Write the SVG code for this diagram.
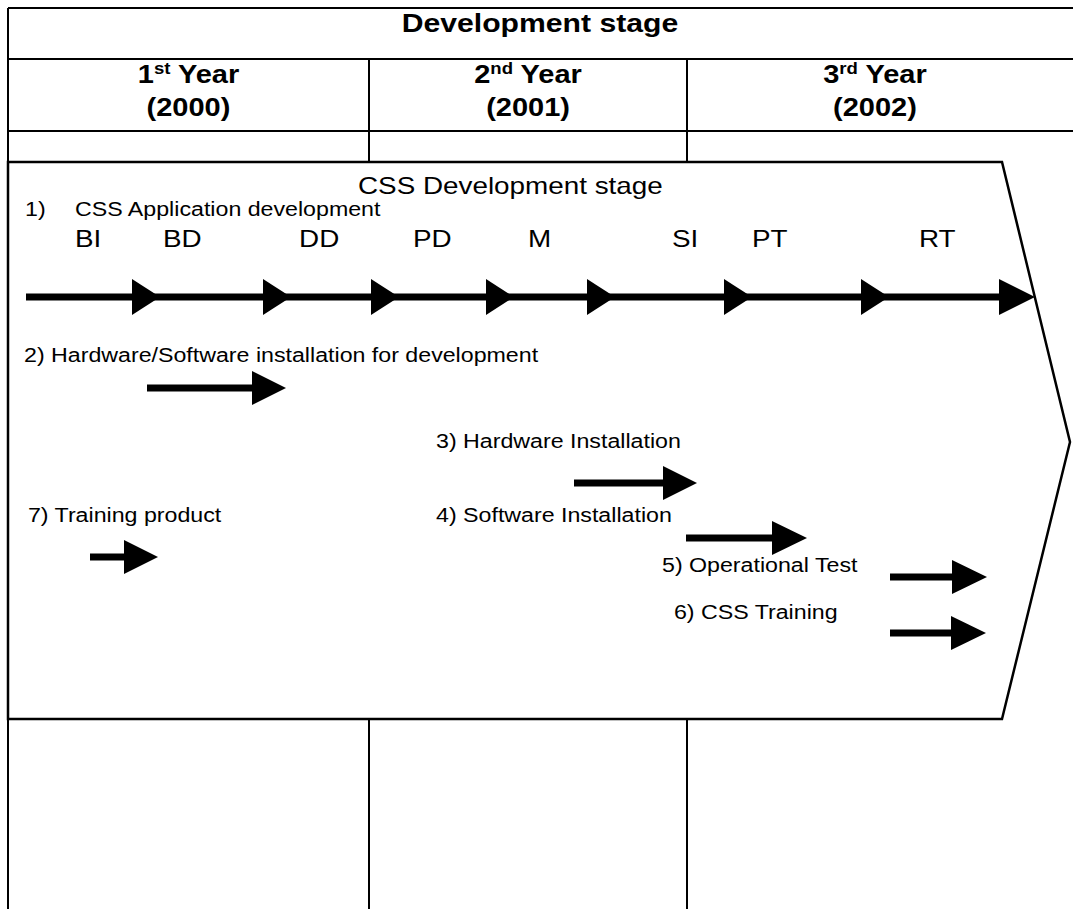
<svg xmlns="http://www.w3.org/2000/svg" width="1073" height="909" viewBox="0 0 1073 909">
  <style>
    .ln { stroke: #000; stroke-width: 2; fill: none; }
    .box { stroke: #000; stroke-width: 2.5; fill: #fff; }
    .t { font-family: "Liberation Sans", Arial, sans-serif; fill: #000; }
    .hb { font-size: 25px; font-weight: bold; }
    .hd { font-size: 26px; font-weight: bold; }
    .big { font-size: 24px; }
    .mid { font-size: 20px; }
    .sm { font-size: 20px; }
    .shaft { stroke: #000; stroke-width: 7; }
    .head { fill: #000; }
  </style>
  <rect width="1073" height="909" fill="#fff"/>

  <g id="table">
    <line class="ln" x1="8" y1="8" x2="1073" y2="8"/>
    <line class="ln" x1="8" y1="8" x2="8" y2="909"/>
    <line class="ln" x1="8" y1="59" x2="1073" y2="59"/>
    <line class="ln" x1="8" y1="131" x2="1073" y2="131"/>
    <line class="ln" x1="369" y1="59" x2="369" y2="162"/>
    <line class="ln" x1="687" y1="59" x2="687" y2="162"/>
    <line class="ln" x1="369" y1="719" x2="369" y2="909"/>
    <line class="ln" x1="687" y1="719" x2="687" y2="909"/>
  </g>

  <g id="css-stage-box">
    <polygon class="box" points="8,162 1002,162 1070,442 1002,719 8,719"/>
  </g>

  <g id="connectors">
    <line class="shaft" x1="26" y1="297" x2="1010" y2="297"/>
    <polygon class="head" points="132,279 160,297 132,315"/>
    <polygon class="head" points="263,279 291,297 263,315"/>
    <polygon class="head" points="371,279 399,297 371,315"/>
    <polygon class="head" points="486,279 514,297 486,315"/>
    <polygon class="head" points="587,279 615,297 587,315"/>
    <polygon class="head" points="724,279 752,297 724,315"/>
    <polygon class="head" points="861,279 889,297 861,315"/>
    <polygon class="head" points="999,279 1035,297 999,315"/>

    <line class="shaft" x1="147" y1="388" x2="254" y2="388"/>
    <polygon class="head" points="252,371 286,388 252,405"/>

    <line class="shaft" x1="574" y1="483" x2="665" y2="483"/>
    <polygon class="head" points="663,466 697,483 663,500"/>

    <line class="shaft" x1="686" y1="538" x2="774" y2="538"/>
    <polygon class="head" points="772,521 807,538 772,555"/>

    <line class="shaft" x1="890" y1="577" x2="954" y2="577"/>
    <polygon class="head" points="952,560 987,577 952,594"/>

    <line class="shaft" x1="890" y1="633" x2="953" y2="633"/>
    <polygon class="head" points="951,616 986,633 951,650"/>

    <line class="shaft" x1="90" y1="557" x2="126" y2="557"/>
    <polygon class="head" points="124,540 158,557 124,574"/>
  </g>

  <g transform="scale(1.16 1)">
    <g id="header-labels" class="t hb" text-anchor="middle">
      <text class="hd" x="465.5" y="32">Development stage</text>
      <text x="162.5" y="83">1<tspan font-size="16" dy="-9">st</tspan><tspan dy="9"> Year</tspan></text>
      <text x="162.5" y="116">(2000)</text>
      <text x="455.2" y="83">2<tspan font-size="16" dy="-9">nd</tspan><tspan dy="9"> Year</tspan></text>
      <text x="455.2" y="116">(2001)</text>
      <text x="754.3" y="83">3<tspan font-size="16" dy="-9">rd</tspan><tspan dy="9"> Year</tspan></text>
      <text x="754.3" y="116">(2002)</text>
    </g>
    <g id="css-stage-labels" class="t">
      <text class="big" x="308.6" y="194">CSS Development stage</text>
      <text class="mid" x="21.6" y="216">1)</text>
      <text class="mid" x="64.7" y="216">CSS Application development</text>
    </g>
    <g id="phase-labels" class="t big">
      <text x="64.7" y="247">BI</text>
      <text x="140.5" y="247">BD</text>
      <text x="257.8" y="247">DD</text>
      <text x="356" y="247">PD</text>
      <text x="455.2" y="247">M</text>
      <text x="579.3" y="247">SI</text>
      <text x="648.3" y="247">PT</text>
      <text x="792.2" y="247">RT</text>
    </g>
    <g id="task-labels" class="t sm">
      <text x="20.7" y="362">2) Hardware/Software installation for development</text>
      <text x="375.9" y="448">3) Hardware Installation</text>
      <text x="24.1" y="522">7) Training product</text>
      <text x="375.9" y="522">4) Software Installation</text>
      <text x="570.7" y="572">5) Operational Test</text>
      <text x="581" y="619">6) CSS Training</text>
    </g>
  </g>
</svg>
